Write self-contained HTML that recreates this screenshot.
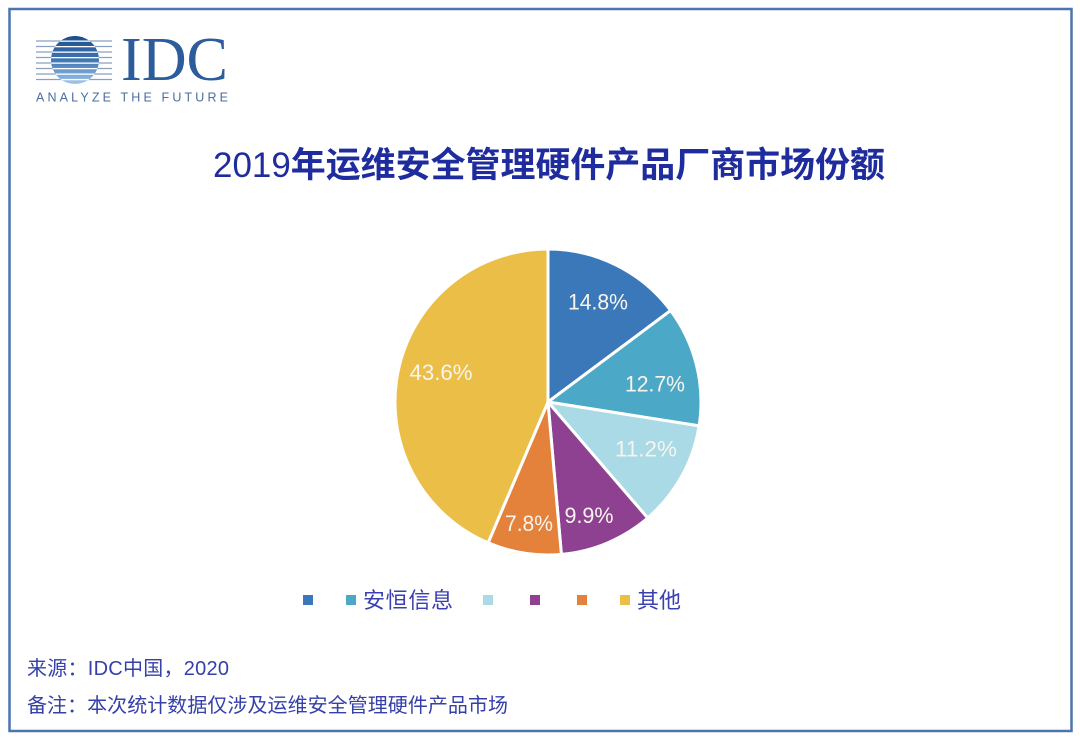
<!DOCTYPE html>
<html><head><meta charset="utf-8"><style>
html,body{margin:0;padding:0;background:#fff;}
svg{display:block;}
text{font-family:"Liberation Sans","Noto Sans CJK SC",sans-serif;}
</style></head><body>
<svg width="1080" height="737" viewBox="0 0 1080 737" xmlns="http://www.w3.org/2000/svg">
<rect x="0" y="0" width="1080" height="737" fill="#ffffff"/>
<rect x="9.5" y="9" width="1062" height="722" fill="#ffffff" stroke="#4c74ad" stroke-width="2.5"/>

<!-- IDC logo -->
<defs>
<clipPath id="globe"><circle cx="75" cy="60" r="24"/></clipPath>
<linearGradient id="gg" x1="0" y1="0" x2="0" y2="1">
<stop offset="0" stop-color="#1c4a88"/>
<stop offset="0.5" stop-color="#3f76b4"/>
<stop offset="1" stop-color="#a6cbec"/>
</linearGradient>
</defs>
<g stroke="#8aa0c0" stroke-width="1.3">
<line x1="36" y1="41" x2="112" y2="41"/>
<line x1="36" y1="46.5" x2="112" y2="46.5"/>
<line x1="36" y1="52" x2="112" y2="52"/>
<line x1="36" y1="57.5" x2="112" y2="57.5"/>
<line x1="36" y1="63" x2="112" y2="63"/>
<line x1="36" y1="68.5" x2="112" y2="68.5"/>
<line x1="36" y1="74" x2="112" y2="74"/>
<line x1="36" y1="79.5" x2="112" y2="79.5"/>
</g>
<g clip-path="url(#globe)">
<rect x="50" y="35" width="50" height="50" fill="url(#gg)"/>
<g fill="#ffffff">
<rect x="50" y="40.5" width="50" height="1.3"/>
<rect x="50" y="46" width="50" height="1.3"/>
<rect x="50" y="51.5" width="50" height="1.3"/>
<rect x="50" y="57" width="50" height="1.3"/>
<rect x="50" y="62.5" width="50" height="1.3"/>
<rect x="50" y="68" width="50" height="1.3"/>
<rect x="50" y="73.5" width="50" height="1.3"/>
<rect x="50" y="79" width="50" height="1.3"/>
</g>
</g>
<text x="121" y="80" style="font-family:'Liberation Serif',serif" font-size="62" fill="#2c5c9c" textLength="107" lengthAdjust="spacingAndGlyphs">IDC</text>
<text x="36" y="101.5" font-size="12.5" fill="#4a6e9e" textLength="192" lengthAdjust="spacing">ANALYZE THE FUTURE</text>

<!-- Title -->
<text x="213" y="177" font-size="35" font-weight="bold" fill="#1f2c9e" textLength="672" lengthAdjust="spacingAndGlyphs"><tspan font-weight="normal">2019</tspan>年运维安全管理硬件产品厂商市场份额</text>

<!-- Pie -->
<g stroke="#ffffff" stroke-width="3" stroke-linejoin="round">
<path d="M548,402 L548,249 A153,153 0 0 1 670.6,310.5 Z" fill="#3b78ba"/>
<path d="M548,402 L670.6,310.5 A153,153 0 0 1 699.1,425.9 Z" fill="#4ba8c6"/>
<path d="M548,402 L699.1,425.9 A153,153 0 0 1 647.7,518.0 Z" fill="#a9dae5"/>
<path d="M548,402 L647.7,518.0 A153,153 0 0 1 561.4,554.4 Z" fill="#8e4190"/>
<path d="M548,402 L561.4,554.4 A153,153 0 0 1 488.1,542.8 Z" fill="#e4813a"/>
<path d="M548,402 L488.1,542.8 A153,153 0 0 1 548,249 Z" fill="#ebbe48"/>
</g>
<g font-size="22" fill="#f8f4ee" text-anchor="middle">
<text x="598" y="309.5" textLength="60" lengthAdjust="spacingAndGlyphs">14.8%</text>
<text x="655" y="391.5" textLength="60" lengthAdjust="spacingAndGlyphs">12.7%</text>
<text x="646" y="456.5" textLength="62" lengthAdjust="spacingAndGlyphs">11.2%</text>
<text x="589" y="523" textLength="49" lengthAdjust="spacingAndGlyphs">9.9%</text>
<text x="529" y="531" textLength="48" lengthAdjust="spacingAndGlyphs">7.8%</text>
<text x="441" y="380" textLength="63" lengthAdjust="spacingAndGlyphs">43.6%</text>
</g>

<!-- Legend -->
<rect x="303" y="595" width="10" height="10" fill="#3b78ba"/>
<rect x="346" y="595" width="10" height="10" fill="#4ba8c6"/>
<text x="363" y="608" font-size="22" fill="#3a40b0" textLength="90" lengthAdjust="spacing">安恒信息</text>
<rect x="483" y="595" width="10" height="10" fill="#a9dae5"/>
<rect x="530" y="595" width="10" height="10" fill="#8e4190"/>
<rect x="577" y="595" width="10" height="10" fill="#e4813a"/>
<rect x="620" y="595" width="10" height="10" fill="#ebbe48"/>
<text x="637" y="608" font-size="22" fill="#3a40b0" textLength="44" lengthAdjust="spacing">其他</text>

<!-- Footer -->
<text x="27" y="675" font-size="20" fill="#3540a8" textLength="202" lengthAdjust="spacing">来源：IDC中国，2020</text>
<text x="27" y="712" font-size="20" fill="#3540a8" textLength="481" lengthAdjust="spacing">备注：本次统计数据仅涉及运维安全管理硬件产品市场</text>
</svg>
</body></html>
